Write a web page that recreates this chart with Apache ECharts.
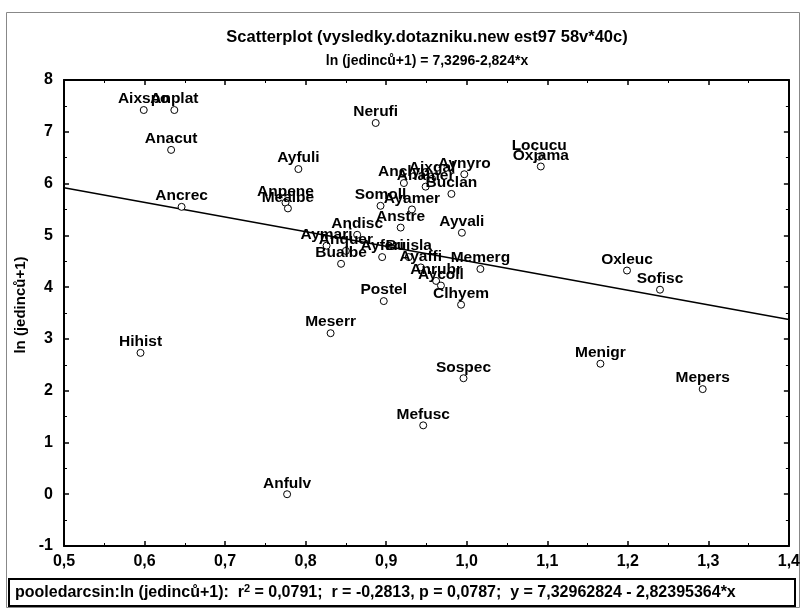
<!DOCTYPE html>
<html>
<head>
<meta charset="utf-8">
<script src="https://cdn.jsdelivr.net/npm/echarts@6/dist/echarts.min.js"></script>
<style>
  html, body { margin: 0; padding: 0; background: #fff; }
  #chart { width: 803px; height: 612px; }
</style>
</head>
<body>
<div id="chart"></div>
<script>
// species codes (cases) and their coordinates
const names = [
  'Aixspo', 'Anplat', 'Anacut', 'Ancrec', 'Ayfuli', 'Anpene', 'Mealbe', 'Nerufi',
  'Aynyro', 'Anclyp', 'Aixgal', 'Anamer', 'Buclan', 'Somoll', 'Ayamer', 'Anstre',
  'Ayvali', 'Andisc', 'Aymari', 'Anquer', 'Ayferi', 'Buisla', 'Bualbe', 'Ayaffi',
  'Memerg', 'Anrubr', 'Aycoll', 'Clhyem', 'Postel', 'Meserr', 'Sospec', 'Mefusc',
  'Anfulv', 'Hihist', 'Menigr', 'Mepers', 'Oxleuc', 'Sofisc', 'Locucu', 'Oxjama'
];
const xVals = [
  0.599, 0.637, 0.633, 0.646, 0.791, 0.775, 0.778, 0.887,
  0.997, 0.922, 0.957, 0.949, 0.981, 0.893, 0.932, 0.918,
  0.994, 0.864, 0.826, 0.850, 0.895, 0.928, 0.844, 0.943,
  1.017, 0.962, 0.968, 0.993, 0.897, 0.831, 0.996, 0.946,
  0.777, 0.595, 1.166, 1.293, 1.199, 1.240, 1.090, 1.092
];
const yVals = [
  7.42, 7.42, 6.65, 5.55, 6.28, 5.63, 5.52, 7.17,
  6.18, 6.01, 6.09, 5.94, 5.80, 5.57, 5.50, 5.15,
  5.05, 5.01, 4.80, 4.70, 4.58, 4.58, 4.45, 4.38,
  4.35, 4.12, 4.03, 3.66, 3.73, 3.11, 2.24, 1.33,
  0.00, 2.73, 2.52, 2.03, 4.32, 3.95, 6.52, 6.33
];
// linear fit: ln(jedinců+1) = a + b*x
const fitA = 7.32962824;
const fitB = -2.82395364;
const xRange = [0.5, 1.4];
const yRange = [-1, 8];

const titleText = 'Scatterplot (vysledky.dotazniku.new est97 58v*40c)';
const subtitleText = 'ln (jedinců+1) = 7,3296-2,824*x';
const yAxisName = 'ln (jedinců+1)';

const fnt = '"Liberation Sans", Arial, sans-serif';
const comma = v => v.toFixed(1).replace('.', ',');

const points = names.map((n, i) => ({ name: n, value: [xVals[i], yVals[i]] }));
const fitLine = xRange.map(x => [x, fitA + fitB * x]);

const chart = echarts.init(document.getElementById('chart'), null, { renderer: 'canvas' });

const G = { left: 64, top: 80, width: 727, height: 466 };

function frameAxis(extra) {
  return Object.assign({
    type: 'value',
    axisLine: { show: true, onZero: false, lineStyle: { color: '#000', width: 2 } },
    axisTick: { show: true, inside: true, length: 5, lineStyle: { color: '#000', width: 1.5 } },
    minorTick: { show: true, splitNumber: 2, length: 3, lineStyle: { color: '#000' } },
    splitLine: { show: false }
  }, extra);
}

const tickLabel = { color: '#000', fontFamily: fnt, fontWeight: 'bold', fontSize: 16 };

chart.setOption({
  animation: false,
  backgroundColor: '#fff',
  grid: { left: G.left, top: G.top, width: G.width, height: G.height, containLabel: false },
  xAxis: [
    frameAxis({ min: xRange[0], max: xRange[1], interval: 0.1,
      axisLabel: Object.assign({ formatter: comma, margin: 8 }, tickLabel) }),
    frameAxis({ position: 'top', min: xRange[0], max: xRange[1], interval: 0.1,
      axisLabel: { show: false } })
  ],
  yAxis: [
    frameAxis({ min: yRange[0], max: yRange[1], interval: 1,
      axisLabel: Object.assign({ margin: 11 }, tickLabel) }),
    frameAxis({ position: 'right', min: yRange[0], max: yRange[1], interval: 1,
      axisLabel: { show: false } })
  ],
  series: [
    {
      type: 'line', data: fitLine, symbol: 'none', silent: true,
      lineStyle: { color: '#000', width: 1.5 }, z: 2
    },
    {
      type: 'scatter', data: points, symbol: 'circle', symbolSize: 7,
      itemStyle: { color: '#fff', borderColor: '#000', borderWidth: 1, opacity: 1 },
      label: {
        show: true, position: 'top', distance: -1, formatter: '{b}',
        color: '#000', fontFamily: fnt, fontWeight: 'bold', fontSize: 15.5,
        textBorderWidth: 0, opacity: 1
      },
      labelLayout: { hideOverlap: false },
      z: 3
    }
  ],
  graphic: [
    { type: 'rect', shape: { x: 6.5, y: 12.5, width: 793, height: 595 },
      style: { fill: 'none', stroke: '#888', lineWidth: 1 }, silent: true },
    { type: 'text', x: 427, y: 37, style: { text: titleText, font: 'bold 16.5px ' + fnt, fill: '#000', textAlign: 'center', textVerticalAlign: 'middle' } },
    { type: 'text', x: 427, y: 61, style: { text: subtitleText, font: 'bold 14px ' + fnt, fill: '#000', textAlign: 'center', textVerticalAlign: 'middle' } },
    { type: 'text', x: 21, y: G.top + G.height / 2 - 8, rotation: Math.PI / 2,
      style: { text: yAxisName, font: 'bold 15px ' + fnt, fill: '#000', textAlign: 'center', textVerticalAlign: 'middle' } },
    { type: 'rect', shape: { x: 9, y: 579, width: 786, height: 27 },
      style: { fill: '#fff', stroke: '#000', lineWidth: 2 } },
    { type: 'text', x: 15, y: 593,
      style: {
        text: '{a|pooledarcsin:ln (jedinců+1):  r}{s|2}{a| = 0,0791;  r = -0,2813, p = 0,0787;  y = 7,32962824 - 2,82395364*x}',
        textVerticalAlign: 'middle',
        rich: {
          a: { font: 'bold 16px ' + fnt, fill: '#000' },
          s: { font: 'bold 11px ' + fnt, fill: '#000', verticalAlign: 'top', padding: [0, 0, 9, 0] }
        }
      } }
  ]
});
</script>
</body>
</html>
